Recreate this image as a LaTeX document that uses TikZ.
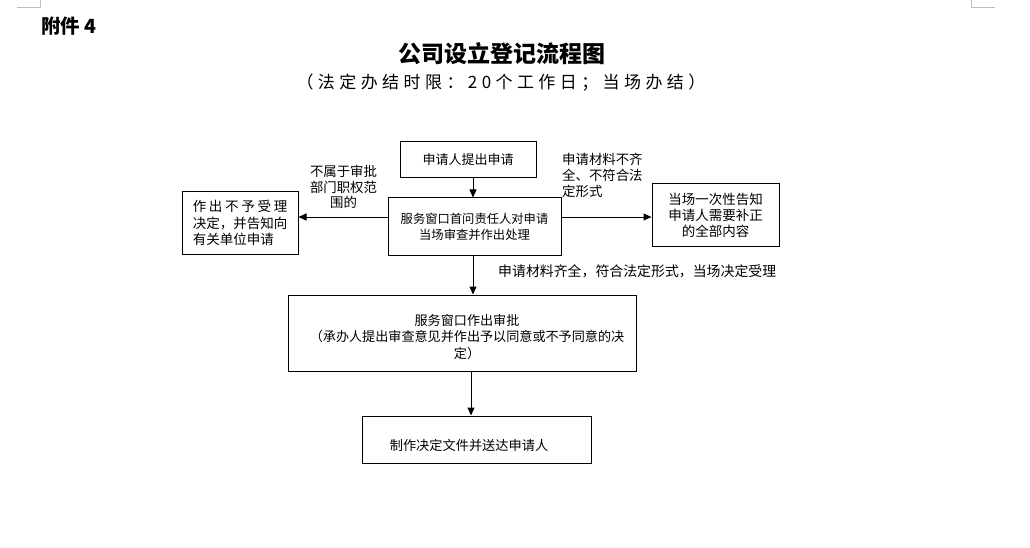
\documentclass[tikz,border=0pt]{standalone}
\usepackage{fontspec}
\setmainfont{Noto Sans CJK SC}
\newfontfamily\cjksp[LetterSpace=26]{Noto Sans CJK SC}
\usetikzlibrary{arrows.meta}
\begin{document}
\begin{tikzpicture}[x=1pt,y=-1pt,
  box/.style={draw,line width=1pt,inner sep=0pt,align=center,font=\fontsize{13}{16.5}\selectfont},
  txt/.style={inner sep=0pt,align=center,font=\fontsize{13}{16.5}\selectfont},
  lab/.style={inner sep=0pt,font=\fontsize{13.4}{15.5}\selectfont},
  arr/.style={line width=1pt,-{Triangle[length=8pt,width=7pt]}},
  mark/.style={draw=gray!50,line width=0.8pt}]
\useasboundingbox (0,0) rectangle (1030,548);
\fill[white] (0,0) rectangle (1030,548);
% page corner marks
\draw[gray!50,line width=0.8pt] (17,7) -- (40,7) -- (40,0);
\draw[gray!50,line width=0.8pt] (971,0) -- (971,7) -- (995,7);
% headings
\node[anchor=west,inner sep=0pt,font=\bfseries\fontsize{19.5}{22}\selectfont] (att) at (41,26.5) {附件 4};
\node[inner sep=0pt,font=\bfseries\fontsize{23}{26}\selectfont] (title) at (501.5,53.5) {公司设立登记流程图};
\node[inner sep=0pt,font=\cjksp\fontsize{17}{20}\selectfont] (sub) at (501,83) {（法定办结时限：20个工作日；当场办结）};
% boxes
\node[box,minimum width=136,minimum height=36] (b1) at (468,160) {申请人提出申请};
\node[box,minimum width=173,minimum height=57,font=\fontsize{12.3}{16}\selectfont] (b2) at (474.5,226.5) {服务窗口首问责任人对申请\\当场审查并作出处理};
\node[box,minimum width=116,minimum height=62,align=left,font=\fontsize{13.5}{16.5}\selectfont] (bl) at (240,223)
  {\makebox[94.5pt][l]{作\hfill 出\hfill 不\hfill 予\hfill 受\hfill 理}\\决定，并告知向\\有关单位申请};
\node[box,minimum width=127,minimum height=62,font=\fontsize{13.5}{16}\selectfont] (br) at (715.5,215) {当场一次性告知\\申请人需要补正\\的全部内容};
\node[box,minimum width=348,minimum height=76] (b3) at (462,333) {};
\node[txt,font=\fontsize{13.1}{16.5}\selectfont] (b3t) at (467,337) {服务窗口作出审批\\（承办人提出审查意见并作出予以同意或不予同意的决\\定）};
\node[box,minimum width=229,minimum height=47] (b4) at (476.5,439.5) {};
\node[txt,font=\fontsize{13.2}{16}\selectfont] (b4t) at (469,445) {制作决定文件并送达申请人};
% labels
\node[lab,align=center] (l1) at (343.5,187) {不属于审批\\部门职权范\\围的};
\node[lab,align=left,anchor=west,font=\fontsize{13.4}{16}\selectfont] (l2) at (562,175) {申请材料不齐\\全、不符合法\\定形式};
\node[lab,anchor=west,font=\fontsize{13.9}{16}\selectfont] (l3) at (498,271) {申请材料齐全，符合法定形式，当场决定受理};
% helper coordinates
\coordinate (ya) at (0,217);
\coordinate (xa) at (473,0);
\coordinate (xb) at (471,0);
% connectors
\draw[arr] (b1.south -| xa) -- (b2.north -| xa);
\draw[arr] (b2.west |- ya) -- (bl.east |- ya);
\draw[arr] (b2.east |- ya) -- (br.west |- ya);
\draw[arr] (b2.south -| xa) -- (b3.north -| xa);
\draw[arr] (b3.south -| xb) -- (b4.north -| xb);
\end{tikzpicture}
\end{document}
